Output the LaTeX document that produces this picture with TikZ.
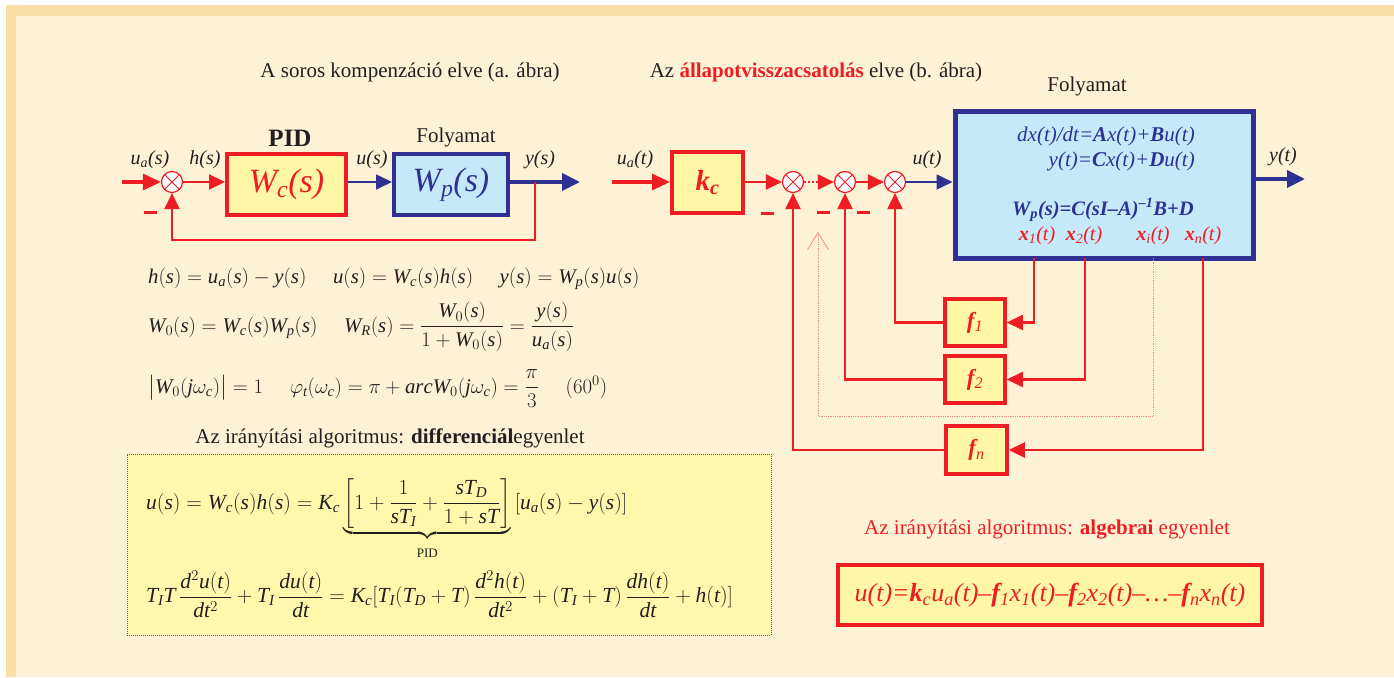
\RequirePackage{fix-cm}
\documentclass[tikz,border=0pt]{standalone}
\usepackage{amsmath}
\usepackage{fontspec}
\setmainfont{Liberation Serif}
\newfontfamily\tmsfam[NFSSFamily=tms]{Liberation Serif}
\DeclareSymbolFont{tletters}{TU}{tms}{m}{it}
\DeclareSymbolFont{tupright}{TU}{tms}{m}{n}
\newcommand\tml[1]{\DeclareMathSymbol{#1}{\mathalpha}{tletters}{`#1}}
\newcommand\tmu[1]{\DeclareMathSymbol{#1}{\mathalpha}{tupright}{`#1}}
\tml a\tml b\tml c\tml d\tml e\tml f\tml g\tml h\tml i\tml j\tml k\tml l\tml m
\tml n\tml o\tml p\tml q\tml r\tml s\tml t\tml u\tml v\tml w\tml x\tml y\tml z
\tml A\tml B\tml C\tml D\tml E\tml F\tml G\tml H\tml I\tml J\tml K\tml L\tml M
\tml N\tml O\tml P\tml Q\tml R\tml S\tml T\tml U\tml V\tml W\tml X\tml Y\tml Z
\tmu 0\tmu 1\tmu 2\tmu 3\tmu 4\tmu 5\tmu 6\tmu 7\tmu 8\tmu 9
\DeclareMathSymbol{(}{\mathopen}{tupright}{`(}
\DeclareMathSymbol{)}{\mathclose}{tupright}{`)}
\DeclareMathSymbol{[}{\mathopen}{tupright}{`[}
\DeclareMathSymbol{]}{\mathclose}{tupright}{`]}
\usetikzlibrary{arrows.meta}
\definecolor{tanB}{HTML}{F8DFA8}
\definecolor{cream}{HTML}{FEF2D6}
\definecolor{myyellow}{HTML}{FFF7A6}
\definecolor{boxyellow}{HTML}{FFF8AC}
\definecolor{lightblue}{HTML}{C6E9FA}
\definecolor{myred}{HTML}{EE1D23}
\definecolor{myblue}{HTML}{2E3192}
\definecolor{txt}{HTML}{231F20}
\definecolor{pinkline}{HTML}{F28A8A}
\newcommand\fsz[1]{\fontsize{#1}{#1}\selectfont}
\begin{document}
\begin{tikzpicture}[x=1pt,y=-1pt,
  redbox/.style={draw=myred, line width=4pt, fill=myyellow, inner sep=0pt},
  bluebox/.style={draw=myblue, line width=4pt, fill=lightblue, inner sep=0pt},
  sumj/.style={circle, draw=myred, line width=1.2pt, fill=white, minimum size=21pt, inner sep=0pt,
    path picture={\draw[myred,line width=1pt] (path picture bounding box.north west)--(path picture bounding box.south east)
      (path picture bounding box.north east)--(path picture bounding box.south west);}},
  sigthick/.style={draw=myred, line width=3.2pt, -{Triangle[length=18pt,width=16pt]}},
  sig/.style={draw=myred, line width=2.2pt, -{Triangle[length=16pt,width=15pt]}},
  fb/.style={draw=myred, line width=2.2pt, -{Triangle[length=16pt,width=15pt]}},
  bluesig/.style={draw=myblue, line width=1.6pt, -{Triangle[length=16pt,width=15pt]}},
  blueout/.style={draw=myblue, line width=4pt, -{Triangle[length=18pt,width=17pt]}},
  lab/.style={font=\fsz{20}\itshape, text=txt, inner sep=0pt},
  ttl/.style={font=\fsz{21}, text=txt, inner sep=0pt},
  minusbar/.style={fill=myred, minimum width=13pt, minimum height=3pt, inner sep=0pt},
  eq/.style={font=\fsz{20.8}, text=txt, inner sep=0pt},
  beq/.style={font=\fsz{21.5}, text=txt, inner sep=0pt}]
% background
\fill[white] (0,0) rectangle (1394,677);
\fill[tanB] (6,5) rectangle (1394,677);
\fill[cream] (16,16) rectangle (1394,677);
\useasboundingbox (0,0) rectangle (1394,677);

% ---------------- left diagram ----------------
\node[ttl] (tL) at (410,72) {A soros kompenzáció elve (a. ábra)};
\node[font=\fsz{25}\bfseries, text=txt, inner sep=0pt] (pid) at (290,138) {PID};
\node[ttl] (folL) at (456,137) {Folyamat};

\node[sumj] (sL) at (172,182) {};
\node[redbox, minimum width=119pt, minimum height=61pt] (Wc) at (286.5,184.5)
  {\fsz{34}\itshape\color{myred}W\textsubscript{c}(s)};
\node[bluebox, minimum width=114pt, minimum height=61pt] (Wp) at (451,184.5)
  {\fsz{34}\itshape\color{myblue}W\textsubscript{p}(s)};
\coordinate (inL) at (122,182);
\coordinate (brL) at (535,182);
\coordinate (outL) at (580,182);
\draw[sigthick] (inL) -- (sL.west);
\draw[sig] (sL.east) -- (sL -| Wc.west);
\draw[bluesig] (Wc.east |- sL) -- (Wp.west |- sL);
\draw[blueout] (Wp.east |- sL) -- (outL);
\draw[fb] (brL) -- ++(0,58) -| (sL.south);
\node[lab] (laua) at (150,160) {u\textsubscript{a}(s)};
\node[lab] (lah) at (205,160) {h(s)};
\node[lab] (lau) at (372,160) {u(s)};
\node[lab] (lay) at (540,160) {y(s)};
\node[minusbar] (mL) at (150,212) {};

% equations
\node[eq, anchor=base west] (q1) at (148,283)
  {$h(s)=u_a(s)-y(s)\quad\; u(s)=W_c(s)h(s)\quad\; y(s)=W_p(s)u(s)$};
\node[eq, anchor=base west] (q2) at (148,332)
  {$W_0(s)=W_c(s)W_p(s)\quad\; W_R(s)=\dfrac{W_0(s)}{1+W_0(s)}=\dfrac{y(s)}{u_a(s)}$};
\node[eq, anchor=base west] (q3) at (148,393)
  {$\bigl|W_0(j\omega_c)\bigr|=1\quad\; \varphi_t(\omega_c)=\pi+arcW_0(j\omega_c)=\dfrac{\pi}{3}\quad\; (60^0)$};

\node[font=\fsz{21}, text=txt, inner sep=0pt] (tD) at (390,438)
  {Az irányítási algoritmus: \textbf{differenciál}egyenlet};
\node[draw=myred, densely dotted, line width=1pt, fill=boxyellow, minimum width=644pt, minimum height=181pt, inner sep=0pt] (db) at (449,544.5) {};
\node[beq, anchor=base west] (b1) at (146,509)
  {$u(s)=W_c(s)h(s)=K_c\underbrace{\left[1+\dfrac{1}{sT_I}+\dfrac{sT_D}{1+sT}\right]}_{\rule{0pt}{17pt}\text{\fsz{13}PID}}\,[u_a(s)-y(s)]$};
\node[beq, anchor=west] (b2) at (146,594)
  {$T_IT\,\dfrac{d^2u(t)}{dt^2}+T_I\,\dfrac{du(t)}{dt}=K_c[T_I(T_D+T)\,\dfrac{d^2h(t)}{dt^2}+(T_I+T)\,\dfrac{dh(t)}{dt}+h(t)]$};

% ---------------- right diagram ----------------
\node[ttl] (tR) at (816,72) {Az \textcolor{myred}{\textbf{állapotvisszacsatolás}} elve (b. ábra)};
\node[ttl] (folR) at (1087,86) {Folyamat};
\node[lab] (laua2) at (635,160) {u\textsubscript{a}(t)};
\coordinate (inR) at (612,182);
\node[redbox, minimum width=71pt, minimum height=61pt] (kc) at (707.5,182.5)
  {\fsz{29}\bfseries\itshape\color{myred}k\textsubscript{c}};
\node[sumj] (s1) at (793,182) {};
\node[sumj] (s2) at (845,182) {};
\node[sumj] (s3) at (895,182) {};
\node[bluebox, line width=5pt, minimum width=298pt, minimum height=147pt] (P) at (1104,184.5) {};
\draw[sigthick] (inR) -- (kc.west |- inR);
\draw[sig] (kc.east |- s1) -- (s1.west);
\coordinate (d1) at (821,182);
\draw[myred, line width=2pt, dotted] (s1.east) -- (d1);
\draw[sig] (d1) -- (s2.west);
\draw[sig] (s2.east) -- (s3.west);
\draw[bluesig] (s3.east) -- (s3 -| P.west);
\node[lab] (laut) at (927,160) {u(t)};
\coordinate (outR) at (1305,179);
\draw[blueout] (P.east |- outR) -- (outR);
\node[lab] (layt) at (1283,157) {y(t)};

\node[anchor=east, font=\fsz{21}\itshape, text=myblue, inner sep=0pt] (e1) at (1195,136)
  {dx(t)/dt=\textbf{A}x(t)+\textbf{B}u(t)};
\node[anchor=east, font=\fsz{21}\itshape, text=myblue, inner sep=0pt] (e2) at (1195,161)
  {y(t)=\textbf{C}x(t)+\textbf{D}u(t)};
\node[anchor=west, font=\fsz{20.5}\bfseries\itshape, text=myblue, inner sep=0pt] (e3) at (1012,210)
  {W\textsubscript{p}(s)=C(sI–A)\textsuperscript{–1}B+D};
\node[font=\fsz{20}\itshape, text=myred, inner sep=0pt] (x1) at (1037,236) {\textbf{x}\textsubscript{1}(t)};
\node[font=\fsz{20}\itshape, text=myred, inner sep=0pt] (x2) at (1084,236) {\textbf{x}\textsubscript{2}(t)};
\node[font=\fsz{20}\itshape, text=myred, inner sep=0pt] (xi) at (1153,236) {\textbf{x}\textsubscript{i}(t)};
\node[font=\fsz{20}\itshape, text=myred, inner sep=0pt] (xn) at (1203,236) {\textbf{x}\textsubscript{n}(t)};

\node[redbox, line width=3.5pt, minimum width=60pt, minimum height=47pt] (f1) at (975,322.5)
  {\fsz{23}\bfseries\itshape\color{myred}f\textsubscript{\mdseries 1}};
\node[redbox, line width=3.5pt, minimum width=60pt, minimum height=47pt] (f2) at (975,379.5)
  {\fsz{23}\bfseries\itshape\color{myred}f\textsubscript{\mdseries 2}};
\node[redbox, line width=3.5pt, minimum width=61pt, minimum height=48pt] (fn) at (976.5,450)
  {\fsz{23}\bfseries\itshape\color{myred}f\textsubscript{\mdseries n}};

\coordinate (x1b) at (1034,258);
\coordinate (x2b) at (1085,258);
\coordinate (xib) at (1153,258);
\coordinate (xic) at (1153,416);
\coordinate (xnb) at (1203,258);
\coordinate (ti) at (818,232);
\draw[fb] (x1b) |- (f1.east);
\draw[fb] (f1.west) -| (s3.south);
\draw[fb] (x2b) |- (f2.east);
\draw[fb] (f2.west) -| (s2.south);
\draw[fb] (xnb) |- (fn.east);
\draw[fb] (fn.west) -| (s1.south);
\draw[pinkline, line width=0.8pt, densely dotted, -{Straight Barb[length=17pt,width=21pt,line width=0.8pt]}] (xib) -- (xic) -| (ti);

\node[minusbar] (m1) at (767,213) {};
\node[minusbar] (m2) at (823,212) {};
\node[minusbar] (m3) at (863,212) {};

\node[font=\fsz{21}, text=myred, inner sep=0pt] (tA) at (1047,530)
  {Az irányítási algoritmus: \textbf{algebrai} egyenlet};
\node[redbox, line width=3.5pt, minimum width=424pt, minimum height=60pt] (alg) at (1050,595)
  {\fsz{26}\itshape\color{myred}u(t)=\textbf{k}\textsubscript{c}u\textsubscript{a}(t)–\textbf{f}\textsubscript{1}x\textsubscript{1}(t)–\textbf{f}\textsubscript{2}x\textsubscript{2}(t)–…–\textbf{f}\textsubscript{n}x\textsubscript{n}(t)};
\end{tikzpicture}
\end{document}
